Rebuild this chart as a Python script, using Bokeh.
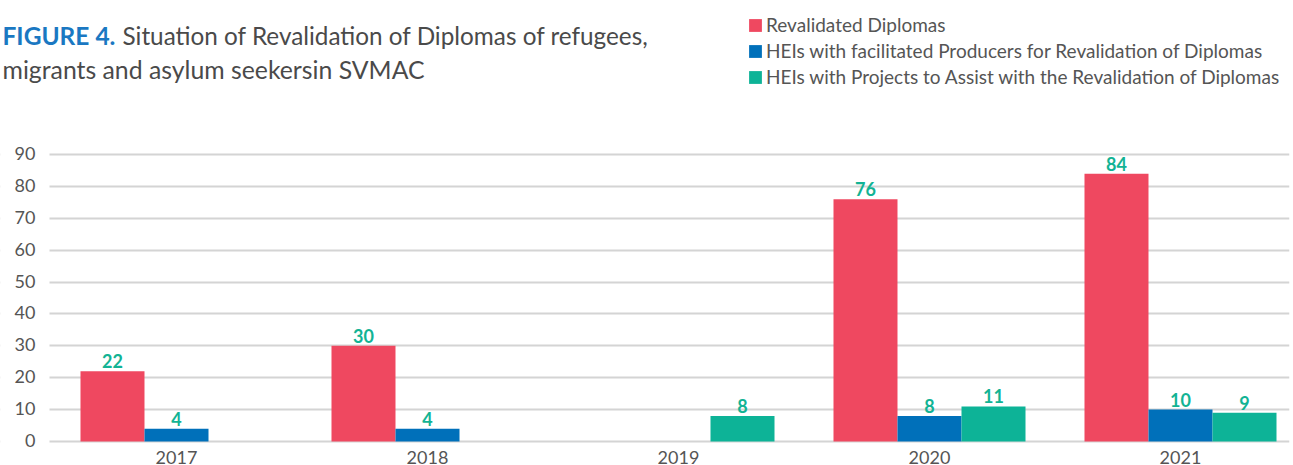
from bokeh.plotting import figure
from bokeh.models import ColumnDataSource, Range1d, FixedTicker, Legend, LegendItem, Label, BoxAnnotation
from bokeh.transform import dodge
from bokeh.core.properties import value
from bokeh.embed import file_html
from bokeh.resources import INLINE

years = ["2017", "2018", "2019", "2020", "2021"]
revalidated = [22, 30, None, 76, 84]
facilitated = [4, 4, None, 8, 10]
projects = [None, None, 8, 11, 9]
series_names = [
    "Revalidated Diplomas",
    "HEIs with facilitated Producers for Revalidation of Diplomas",
    "HEIs with Projects to Assist with the Revalidation of Diplomas",
]
y_ticks = [0, 10, 20, 30, 40, 50, 60, 70, 80, 90]

colors = ["#ef4860", "#0070ba", "#0db397"]
label_color = "#12b394"
text_color = "#555555"
FONT = "Lato"

W, H = 1293, 465
# plotting area: x 49..1289 px, 0-line at y=441, 90-line at y=154
PX = 287 / 90.0
UNIT = 251.0
x_start = -176 / UNIT
x_end = 4 + (1289 - 1180) / UNIT
x_axis_pos = x_start + 49 / UNIT
y0 = -(H - 441) / PX
y1 = 90 + 154 / PX

p = figure(width=W, height=H, output_backend="svg", toolbar_location=None,
           x_range=Range1d(x_start, x_end), y_range=Range1d(y0, y1),
           min_border_left=0, min_border_right=W - 1289, min_border_top=0, min_border_bottom=0)
p.outline_line_color = None
p.background_fill_color = "white"
p.border_fill_color = "white"
p.xgrid.visible = False
p.xaxis.visible = False
p.yaxis.visible = False
p.ygrid.ticker = FixedTicker(ticks=y_ticks)
p.ygrid.grid_line_color = "#d4d4d4"
p.ygrid.grid_line_width = 2

# keep the grid lines from running under the value labels
p.add_layout(BoxAnnotation(right=x_axis_pos, fill_color="white", fill_alpha=1.0,
                           line_color=None, level="underlay"))

# value axis labels
ytick_src = ColumnDataSource(dict(x=[x_axis_pos] * len(y_ticks), y=y_ticks,
                                  t=[str(t) for t in y_ticks]))
p.text(x="x", y="y", text="t", source=ytick_src, text_font=value(FONT),
       text_font_size="18px", text_color=text_color, text_align="right",
       text_baseline="alphabetic", x_offset=-14, y_offset=-1)

bar_w = 0.255
offsets = [-bar_w, 0.0, bar_w]
items = []
for name, vals, col, off in zip(series_names, [revalidated, facilitated, projects], colors, offsets):
    xs = [i for i, v in enumerate(vals) if v is not None]
    vs = [v for v in vals if v is not None]
    src = ColumnDataSource(dict(x=xs, v=vs, t=[str(v) for v in vs]))
    r = p.vbar(x=dodge("x", off, range=p.x_range), top="v", width=bar_w, source=src,
               fill_color=col, line_color=None)
    p.text(x=dodge("x", off, range=p.x_range), y="v", text="t", source=src,
           text_font=value(FONT), text_font_style="bold", text_font_size="18px",
           text_color=label_color, text_align="center", text_baseline="alphabetic",
           y_offset=-10)
    items.append(LegendItem(label=name, renderers=[r]))

# category labels along the bottom
cat_src = ColumnDataSource(dict(x=list(range(len(years))), y=[0] * len(years), t=years))
p.text(x="x", y="y", text="t", source=cat_src, text_font=value(FONT),
       text_font_size="18px", text_color=text_color, text_align="center",
       text_baseline="top", y_offset=9)

# legend: squares at x=747, rows centred at y=23, 50, 77
legend = Legend(items=items, location=(747, H - 88), orientation="vertical",
                glyph_width=16, glyph_height=16, label_standoff=3, spacing=3,
                padding=0, margin=0, border_line_color=None, background_fill_alpha=0,
                label_text_font=FONT, label_text_font_size="19px",
                label_text_color=text_color, label_height=20)
p.add_layout(legend, "center")

p.add_layout(Label(x=2, y=H - 35, x_units="screen", y_units="screen", text="FIGURE 4.",
                   text_font=FONT, text_font_style="bold", text_font_size="24.5px",
                   text_color="#1a78c2", text_baseline="alphabetic"))
p.add_layout(Label(x=122, y=H - 35, x_units="screen", y_units="screen",
                   text="Situation of Revalidation of Diplomas of refugees,",
                   text_font=FONT, text_font_size="24.3px", text_color="#4a4a4a",
                   text_baseline="alphabetic"))
p.add_layout(Label(x=2, y=H - 69, x_units="screen", y_units="screen",
                   text="migrants and asylum seekersin SVMAC",
                   text_font=FONT, text_font_size="24.8px", text_color="#4a4a4a",
                   text_baseline="alphabetic"))

open("out.html", "w").write(file_html(p, INLINE))
